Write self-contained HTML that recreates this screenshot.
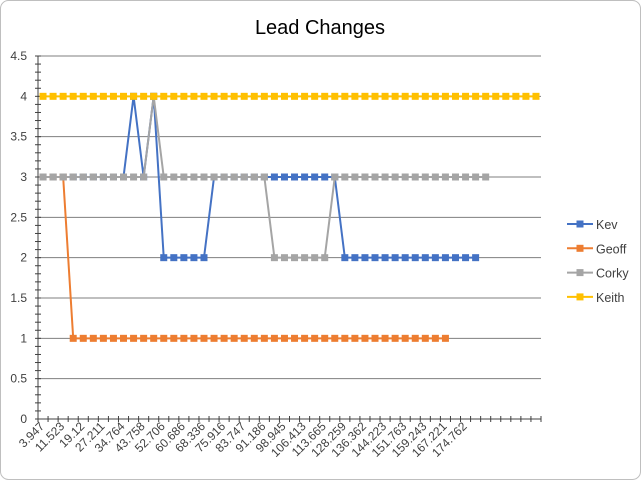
<!DOCTYPE html>
<html><head><meta charset="utf-8"><style>
html,body{margin:0;padding:0;background:#fff;}
svg{display:block;font-family:"Liberation Sans",Calibri,sans-serif;}
</style></head><body>
<svg id="chart" width="641" height="480" viewBox="0 0 641 480">
<rect x="0.5" y="0.5" width="640" height="479" rx="8" fill="#fff" stroke="#bfbfbf"/>
<text x="320" y="34" text-anchor="middle" font-size="20" fill="#000">Lead Changes</text>
<g id="grid"></g><g id="axes"></g><g id="series"></g><g id="legend"></g>
</svg>
<script>
const categories = ["3.947","","11.523","","19.12","","27.211","","34.764","","43.758","","52.706","","60.686","","68.336","","75.916","","83.747","","91.186","","98.945","","106.413","","113.665","","128.259","","136.362","","144.223","","151.763","","159.243","","167.221","","174.762","","","","","","",""];
const kev = [3,3,3,3,3,3,3,3,3,4,3,4,2,2,2,2,2,3,3,3,3,3,3,3,3,3,3,3,3,3,2,2,2,2,2,2,2,2,2,2,2,2,2,2];
const geoff = [3,3,3,1,1,1,1,1,1,1,1,1,1,1,1,1,1,1,1,1,1,1,1,1,1,1,1,1,1,1,1,1,1,1,1,1,1,1,1,1,1];
const corky = [3,3,3,3,3,3,3,3,3,3,3,4,3,3,3,3,3,3,3,3,3,3,3,2,2,2,2,2,2,3,3,3,3,3,3,3,3,3,3,3,3,3,3,3,3];
const keith = [4,4,4,4,4,4,4,4,4,4,4,4,4,4,4,4,4,4,4,4,4,4,4,4,4,4,4,4,4,4,4,4,4,4,4,4,4,4,4,4,4,4,4,4,4,4,4,4,4,4];
const yTicks = [0,0.5,1,1.5,2,2.5,3,3.5,4,4.5];
const seriesNames = ["Kev","Geoff","Corky","Keith"];
const seriesColors = ["#4472c4","#ed7d31","#a5a5a5","#ffc000"];

const NS="http://www.w3.org/2000/svg";
const X0=38, X1=541, Y0=419, Y1=56, YMAX=4.5;
const N=categories.length, bw=(X1-X0)/N;
const xS=i=>X0+bw*(i+0.5);
const yS=v=>Y0-(v/YMAX)*(Y0-Y1);
function mk(tag,attrs,parent){const e=document.createElementNS(NS,tag);for(const k in attrs)e.setAttribute(k,attrs[k]);parent.appendChild(e);return e;}
const grid=document.getElementById('grid'),axes=document.getElementById('axes'),ser=document.getElementById('series'),leg=document.getElementById('legend');

yTicks.forEach(v=>{
  if(v>0){const l=mk('line',{x1:X0,x2:X1,y1:yS(v),y2:yS(v),stroke:'#7f7f7f','stroke-width':1},grid);
  
  }
  const t=mk('text',{x:27,y:yS(v)+4,'text-anchor':'end','font-size':12,fill:'#404040'},axes);
  t.textContent=v;
  
  
});
for(let k=0;k<=45;k++){const y=yS(k*0.1);mk('line',{x1:X0-3,x2:X0+3,y1:y,y2:y,stroke:'#404040','stroke-width':1},axes);}
const ya=mk('line',{x1:X0,x2:X0,y1:Y1,y2:Y0,stroke:'#404040','stroke-width':1},axes);


const xa=mk('line',{x1:X0,x2:X1,y1:Y0,y2:Y0,stroke:'#404040','stroke-width':1},axes);


for(let i=0;i<=N;i++){const x=X0+bw*i;mk('line',{x1:x,x2:x,y1:Y0-3,y2:Y0+3,stroke:'#404040','stroke-width':1},axes);}
categories.forEach((c,i)=>{
  if(!c)return;
  const x=xS(i)+2,y=Y0+8;
  const t=mk('text',{x:x,y:y,'text-anchor':'end','font-size':12,fill:'#404040',transform:`rotate(-45 ${x} ${y})`},axes);
  t.textContent=c;
  
  
});

[kev,geoff,corky,keith].forEach((arr,si)=>{
  const g=mk('g',{},ser);
  
  
  const pts=arr.map((v,i)=>xS(i)+','+yS(v)).join(' ');
  mk('polyline',{points:pts,fill:'none',stroke:seriesColors[si],'stroke-width':2},g);
  arr.forEach((v,i)=>{
    const r=mk('rect',{x:xS(i)-3.5,y:yS(v)-3.5,width:7,height:7,fill:seriesColors[si]},g);
    
    
  });
});

seriesNames.forEach((n,si)=>{
  const y=224+24.3*si;
  const g=mk('g',{},leg);
  
  
  mk('line',{x1:567,x2:593,y1:y,y2:y,stroke:seriesColors[si],'stroke-width':2},g);
  mk('rect',{x:576.5,y:y-3.5,width:7,height:7,fill:seriesColors[si]},g);
  const t=mk('text',{x:596,y:y+5,'font-size':12.5,fill:'#404040'},g);
  t.textContent=n;
});
</script>
</body></html>
